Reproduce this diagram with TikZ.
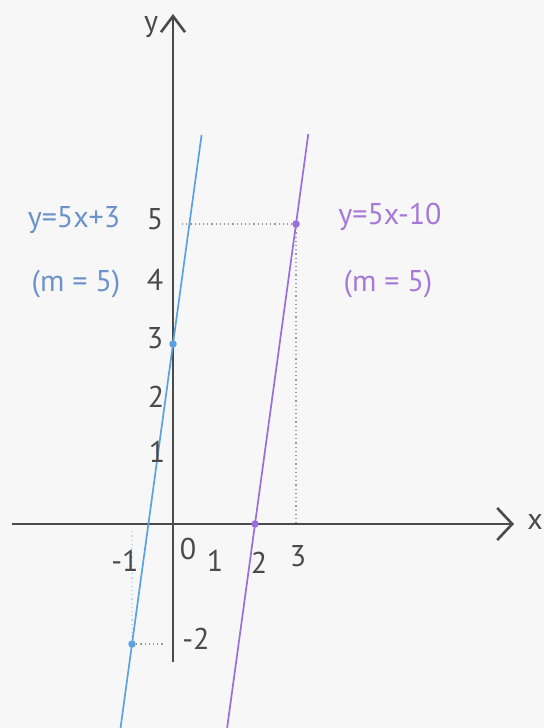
\documentclass[tikz,border=0pt]{standalone}
\usepackage{fontspec}
\setmainfont{PT Sans}
\usetikzlibrary{arrows.meta}
\definecolor{bg}{HTML}{F7F7F7}
\definecolor{axisc}{HTML}{4A4A4A}
\definecolor{blueline}{HTML}{5AA2E4}
\definecolor{bluetext}{HTML}{6A93CC}
\definecolor{purpline}{HTML}{9A6EDE}
\definecolor{purptext}{HTML}{A679D8}
\definecolor{dotc}{HTML}{9A9A9A}
\begin{document}
\begin{tikzpicture}[x=1pt,y=1pt,
  axisline/.style={draw=axisc, line width=2.6pt},
  lbl/.style={font=\fontsize{30}{33}\selectfont, text=axisc, inner sep=0pt, anchor=center},
  bluelbl/.style={lbl, text=bluetext},
  purplbl/.style={lbl, text=purptext},
  guide/.style={draw=dotc, line width=1.2pt, dash pattern=on 1.2pt off 3pt},
  graphline/.style={line width=1.7pt},
  dotpt/.style={circle, inner sep=0pt, minimum size=7.5pt}]
\fill[bg] (0,0) rectangle (544,728);
\useasboundingbox (0,0) rectangle (544,728);
% axes
\coordinate (xs) at (12,204);
\coordinate (xe) at (514,204);
\coordinate (ys) at (173,66);
\coordinate (ye) at (173,714);
\draw[axisline, -{Straight Barb[length=15pt,width=32pt,line width=2.6pt]}] (xs) -- (xe);
\draw[axisline, -{Straight Barb[length=16pt,width=24pt,line width=2.6pt]}] (ys) -- (ye);
\node[lbl] (xl) at (535,206) {x};
\node[lbl] (yl) at (151,701) {y};
\begin{scope}[shift={(173,204)}, x=41pt, y=60pt]
  % guides
  \coordinate (g5) at (0.22,5);
  \coordinate (g3x) at (3,0);
  \coordinate (gm1) at (-1,-0.12);
  \coordinate (gm2) at (-0.2,-2);
  \node[dotpt, fill=purpline] (p35) at (3,5) {};
  \node[dotpt, fill=purpline] (p20) at (2,0) {};
  \node[dotpt, fill=blueline] (b03) at (0,3) {};
  \node[dotpt, fill=blueline] (bm1) at (-1,-2) {};
  \draw[guide] (g5) -- (p35.center);
  \draw[guide] (p35.center) -- (g3x);
  \draw[guide, draw=white!60!blueline] (gm1) -- (bm1.center);
  \draw[guide] (bm1.center) -- (gm2);
  % lines
  \coordinate (bs) at (-1.28,-3.4);
  \coordinate (be) at (0.697,6.485);
  \coordinate (ps) at (1.32,-3.4);
  \coordinate (pe) at (3.30,6.5);
  \draw[graphline, blueline] (bs) -- (be);
  \draw[graphline, purpline] (ps) -- (pe);
\end{scope}
% y tick labels
\node[lbl] (t5) at (155,509) {5};
\node[lbl] (t4) at (155,448) {4};
\node[lbl] (t3) at (155,390) {3};
\node[lbl] (t2) at (156,331) {2};
\node[lbl] (t1) at (157,276) {1};
\node[lbl] (tm2) at (196,89) {-2};
% x tick labels
\node[lbl] (sm1) at (125,167) {-1};
\node[lbl] (s0) at (188,179) {0};
\node[lbl] (s1) at (215,167) {1};
\node[lbl] (s2) at (259,165) {2};
\node[lbl] (s3) at (298,172) {3};
% equation labels
\node[bluelbl] (beq) at (74,508) {y=5x+3};
\node[bluelbl] (bm) at (76,444) {(m = 5)};
\node[purplbl] (peq) at (390,511) {y=5x-10};
\node[purplbl] (pm) at (388,444) {(m = 5)};
\end{tikzpicture}
\end{document}
